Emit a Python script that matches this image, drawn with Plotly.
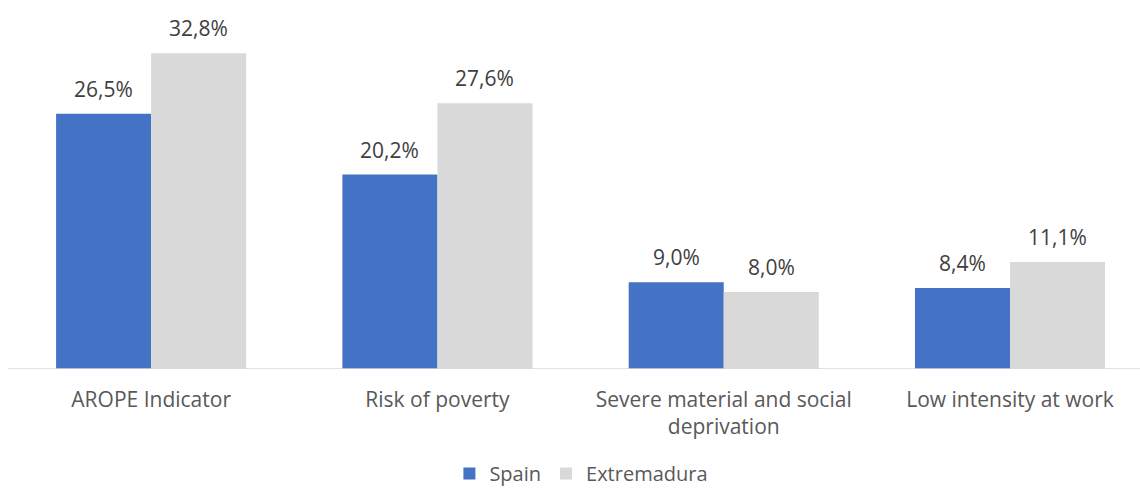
import plotly.graph_objects as go

categories = ["AROPE Indicator", "Risk of poverty", "Severe material and social<br>deprivation", "Low intensity at work"]
spain = [26.5, 20.2, 9.0, 8.4]
extremadura = [32.8, 27.6, 8.0, 11.1]
series_names = ["Spain", "Extremadura"]
colors = ["#4472C4", "#D9D9D9"]

FONT = "Open Sans"
FS = 21
xs = list(range(len(categories)))
bw = 0.332

def fmt(v):
    return f"{v:.1f}".replace(".", ",") + "%"

fig = go.Figure()
for name, vals, col, off in [(series_names[0], spain, colors[0], -bw / 2), (series_names[1], extremadura, colors[1], bw / 2)]:
    fig.add_trace(go.Bar(
        x=[x + off for x in xs], y=vals, name=name, width=bw,
        marker=dict(color=col, line=dict(width=0)),
        hoverinfo="skip",
    ))
    for x, v in zip(xs, vals):
        fig.add_annotation(x=x + off, y=v, text=fmt(v), showarrow=False,
                           yanchor="bottom", yshift=9,
                           font=dict(family=FONT, size=FS, color="#404040"))

fig.update_layout(
    width=1140, height=493,
    margin=dict(l=8, r=0, t=32, b=124),
    plot_bgcolor="white", paper_bgcolor="white",
    barmode="overlay",
    showlegend=True,
    legend=dict(orientation="h", xref="container", yref="container",
                x=0.51, xanchor="center", y=0.0, yanchor="bottom",
                font=dict(family=FONT, size=20, color="#595959"),
                itemwidth=30, traceorder="normal"),
    xaxis=dict(range=[-0.5, 3.454], tickvals=xs, ticktext=categories,
               showgrid=False, zeroline=False, showline=False,
               ticks="", ticklabelstandoff=16,
               tickfont=dict(family=FONT, size=FS, color="#595959")),
    yaxis=dict(range=[0, 35], visible=False, showgrid=False, zeroline=False),
    shapes=[dict(type="line", xref="paper", yref="y", x0=0, x1=1, y0=0, y1=0,
                 line=dict(color="#D9D9D9", width=1.5))],
)

fig.write_html("out.html")
